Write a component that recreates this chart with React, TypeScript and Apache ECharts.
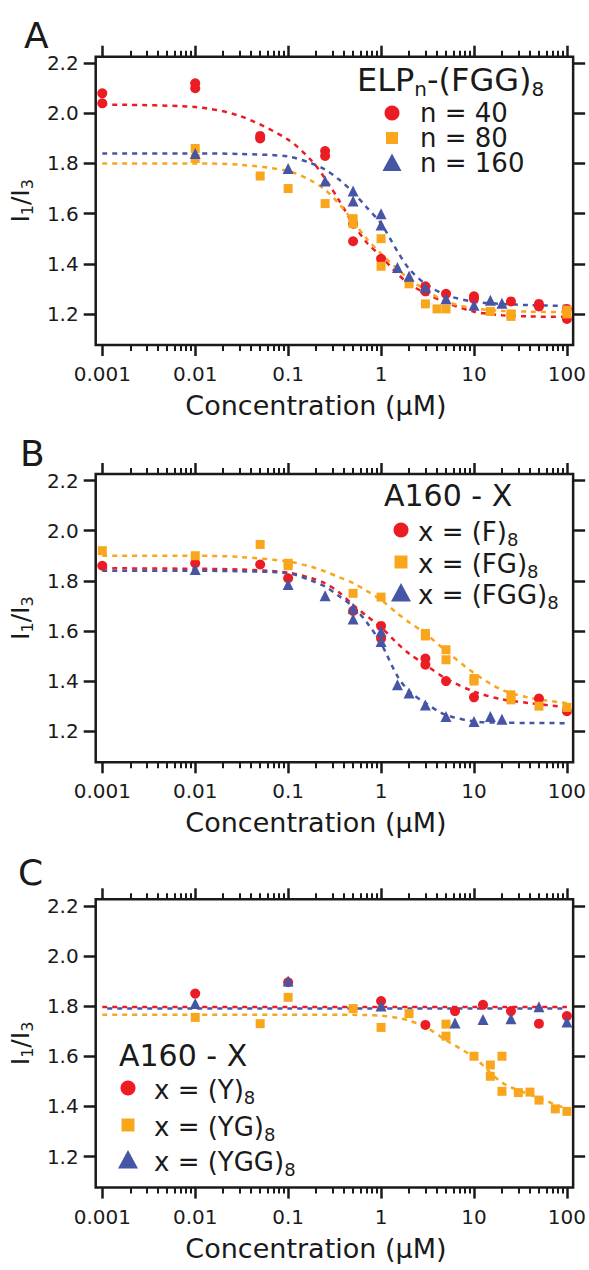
import React, { useEffect, useRef } from 'react';
import * as echarts from 'echarts';

const FONT = 'DejaVu Sans';
const INK = '#1a1a1a';
const RED = '#EC1C24';
const ORANGE = '#F9A61C';
const BLUE = '#4656A5';

// axis ticks
const X_TICKS = [0.001, 0.01, 0.1, 1, 10, 100];
const X_TICK_LABELS = ['0.001', '0.01', '0.1', '1', '10', '100'];
const Y_TICKS = [1.2, 1.4, 1.6, 1.8, 2.0, 2.2];
const Y_TICK_LABELS = ['1.2', '1.4', '1.6', '1.8', '2.0', '2.2'];

// Panel A: ELPn-(FGG)8  [concentration µM, I1/I3]
const A_N40: [number, number][] = [
  [0.001, 2.08], [0.001, 2.04], [0.01, 2.12], [0.01, 2.10], [0.05, 1.91], [0.05, 1.90],
  [0.25, 1.85], [0.25, 1.83], [0.5, 1.56], [0.5, 1.49], [1, 1.42], [3, 1.31], [3, 1.29],
  [5, 1.28], [10, 1.27], [10, 1.26], [25, 1.25], [50, 1.24], [50, 1.23], [100, 1.22], [100, 1.18],
];
const A_N80: [number, number][] = [
  [0.01, 1.86], [0.01, 1.82], [0.05, 1.75], [0.1, 1.70], [0.25, 1.64], [0.5, 1.58], [0.5, 1.56],
  [1, 1.50], [1, 1.39], [2, 1.32], [3, 1.24], [4, 1.22], [5, 1.22], [15, 1.21], [25, 1.20],
  [25, 1.19], [100, 1.215], [100, 1.20],
];
const A_N160: [number, number][] = [
  [0.01, 1.84], [0.1, 1.78], [0.25, 1.73], [0.5, 1.69], [0.5, 1.65], [1, 1.60], [1, 1.555],
  [1.5, 1.385], [2, 1.35], [3, 1.305], [5, 1.26], [10, 1.235], [15, 1.255], [20, 1.243],
];

// Panel B: A160 - X
const B_F: [number, number][] = [
  [0.001, 1.86], [0.01, 1.87], [0.05, 1.865], [0.1, 1.81], [0.5, 1.68], [1, 1.62], [1, 1.57],
  [3, 1.49], [3, 1.465], [5, 1.40], [10, 1.335], [50, 1.33], [100, 1.28],
];
const B_FG: [number, number][] = [
  [0.001, 1.92], [0.01, 1.90], [0.05, 1.945], [0.1, 1.87], [0.1, 1.86], [0.5, 1.75], [1, 1.735],
  [3, 1.59], [3, 1.58], [5, 1.525], [5, 1.485], [10, 1.41], [10, 1.40], [25, 1.345], [25, 1.325],
  [50, 1.30], [100, 1.295],
];
const B_FGG: [number, number][] = [
  [0.01, 1.845], [0.1, 1.785], [0.25, 1.74], [0.5, 1.69], [0.5, 1.648], [1, 1.598], [1, 1.558],
  [1.5, 1.385], [2, 1.352], [3, 1.305], [5, 1.259], [10, 1.239], [15, 1.259], [20, 1.248],
];

// Panel C: A160 - X
const C_Y: [number, number][] = [
  [0.01, 1.85], [0.1, 1.895], [1, 1.82], [3, 1.725], [6.25, 1.78], [12.5, 1.805], [25, 1.78],
  [50, 1.73], [100, 1.76],
];
const C_YG: [number, number][] = [
  [0.01, 1.755], [0.05, 1.73], [0.1, 1.835], [0.5, 1.79], [1, 1.715], [2, 1.77], [5, 1.728],
  [5, 1.68], [10, 1.60], [15, 1.565], [15, 1.52], [20, 1.60], [20, 1.46], [30, 1.455],
  [40, 1.457], [50, 1.425], [75, 1.39], [100, 1.38],
];
const C_YGG: [number, number][] = [
  [0.01, 1.81], [0.1, 1.90], [1, 1.80], [6.25, 1.733], [12.5, 1.747], [25, 1.75], [50, 1.797],
  [100, 1.737],
];

// fitted curves at these concentrations
const FIT_X = [0.001, 0.01, 0.03, 0.1, 0.18, 0.25, 0.35, 0.5, 0.7, 1, 1.5, 2, 3, 5, 10, 20, 40, 100];
const A_N40_FIT = [2.035, 2.025, 1.99, 1.895, 1.81, 1.74, 1.655, 1.56, 1.485, 1.43, 1.36, 1.32, 1.283, 1.245, 1.209, 1.195, 1.19, 1.188];
const A_N80_FIT = [1.80, 1.80, 1.795, 1.77, 1.73, 1.695, 1.64, 1.57, 1.50, 1.44, 1.38, 1.34, 1.296, 1.25, 1.222, 1.212, 1.209, 1.207];
const A_N160_FIT = [1.84, 1.84, 1.838, 1.828, 1.80, 1.776, 1.737, 1.685, 1.625, 1.56, 1.45, 1.38, 1.32, 1.275, 1.249, 1.24, 1.235, 1.232];
const B_F_FIT = [1.85, 1.848, 1.845, 1.833, 1.81, 1.79, 1.755, 1.704, 1.66, 1.615, 1.55, 1.51, 1.465, 1.41, 1.358, 1.327, 1.312, 1.296];
const B_FG_FIT = [1.90, 1.90, 1.895, 1.877, 1.855, 1.837, 1.815, 1.791, 1.76, 1.724, 1.67, 1.635, 1.59, 1.52, 1.432, 1.365, 1.333, 1.312];
const B_FGG_FIT = [1.84, 1.84, 1.838, 1.83, 1.80, 1.777, 1.74, 1.697, 1.635, 1.55, 1.42, 1.36, 1.312, 1.265, 1.239, 1.234, 1.233, 1.232];
const C_Y_FIT = [1.796, 1.796, 1.796, 1.796, 1.796, 1.796, 1.796, 1.796, 1.796, 1.796, 1.796, 1.796, 1.796, 1.796, 1.796, 1.796, 1.796, 1.796];
const C_YG_FIT = [1.765, 1.765, 1.765, 1.765, 1.765, 1.765, 1.765, 1.765, 1.764, 1.762, 1.753, 1.742, 1.717, 1.664, 1.595, 1.495, 1.447, 1.39];
const C_YGG_FIT = [1.790, 1.790, 1.790, 1.790, 1.790, 1.790, 1.790, 1.790, 1.790, 1.790, 1.790, 1.790, 1.790, 1.790, 1.790, 1.790, 1.790, 1.790];

const XMIN = -3.071;
const XMAX = 2.067;
const YMIN = 1.076;
const YMAX = 2.226;
const GRID_LEFT = 95.7;
const GRID_W = 478.3;
const GRID_H = 288.3;
const GRID_TOPS = [56.7, 474, 899.3];

type SeriesDef = { name: string; data: [number, number][]; color: string; symbol: string; size: number };
type FitDef = { data: number[]; color: string; offset: number };

const PANELS: { scatter: SeriesDef[]; fits: FitDef[] }[] = [
  {
    scatter: [
      { name: 'n = 40', data: A_N40, color: RED, symbol: 'circle', size: 10 },
      { name: 'n = 80', data: A_N80, color: ORANGE, symbol: 'rect', size: 9 },
      { name: 'n = 160', data: A_N160, color: BLUE, symbol: 'triangle', size: 11 },
    ],
    fits: [
      { data: A_N40_FIT, color: RED, offset: 0 },
      { data: A_N80_FIT, color: ORANGE, offset: 0 },
      { data: A_N160_FIT, color: BLUE, offset: 0 },
    ],
  },
  {
    scatter: [
      { name: 'x = (F)8', data: B_F, color: RED, symbol: 'circle', size: 10 },
      { name: 'x = (FG)8', data: B_FG, color: ORANGE, symbol: 'rect', size: 9 },
      { name: 'x = (FGG)8', data: B_FGG, color: BLUE, symbol: 'triangle', size: 11 },
    ],
    fits: [
      { data: B_F_FIT, color: RED, offset: 0 },
      { data: B_FG_FIT, color: ORANGE, offset: 0 },
      { data: B_FGG_FIT, color: BLUE, offset: 0 },
    ],
  },
  {
    scatter: [
      { name: 'x = (Y)8', data: C_Y, color: RED, symbol: 'circle', size: 10 },
      { name: 'x = (YG)8', data: C_YG, color: ORANGE, symbol: 'rect', size: 9 },
      { name: 'x = (YGG)8', data: C_YGG, color: BLUE, symbol: 'triangle', size: 11 },
    ],
    fits: [
      { data: C_YG_FIT, color: ORANGE, offset: 0 },
      { data: C_Y_FIT, color: RED, offset: 0 },
      { data: C_YGG_FIT, color: BLUE, offset: 5 },
    ],
  },
];

const lg = (v: number) => Math.log10(v);

function buildOption() {
  const major = X_TICKS.map(lg);
  const minor: number[] = [];
  for (let d = -3; d < 2; d++) for (let k = 2; k <= 9; k++) minor.push(d + Math.log10(k));

  const grids: any[] = [];
  const xAxes: any[] = [];
  const yAxes: any[] = [];
  const series: any[] = [];

  PANELS.forEach((p, g) => {
    grids.push({
      left: GRID_LEFT, top: GRID_TOPS[g], width: GRID_W, height: GRID_H,
      show: true, borderColor: INK, borderWidth: 2.5, backgroundColor: 'transparent',
    });
    const xb = {
      type: 'value', gridIndex: g, min: XMIN, max: XMAX, offset: 0,
      splitLine: { show: false }, axisLine: { show: false, onZero: false },
    };
    const tickStyle = { width: 2.5, color: INK };
    xAxes.push(
      {
        ...xb, position: 'bottom',
        axisTick: { show: true, customValues: major, length: 11, lineStyle: tickStyle },
        axisLabel: {
          show: true, customValues: major, margin: 19,
          formatter: (v: number) => X_TICK_LABELS[major.findIndex((m) => Math.abs(m - v) < 1e-6)] ?? '',
          fontSize: 20, fontFamily: FONT, color: INK,
        },
        name: 'Concentration (µM)', nameLocation: 'middle', nameGap: 47,
        nameTextStyle: { fontSize: 27, fontFamily: FONT, color: INK, padding: [0, 37, 0, 0] },
      },
      {
        ...xb, position: 'bottom',
        axisTick: { show: true, customValues: minor, length: 6, lineStyle: { width: 2, color: INK } },
        axisLabel: { show: false },
      },
      {
        ...xb, position: 'top',
        axisTick: { show: true, customValues: major, length: 11, lineStyle: tickStyle },
        axisLabel: { show: false },
      },
      {
        ...xb, position: 'top',
        axisTick: { show: true, customValues: minor, length: 6, lineStyle: { width: 2, color: INK } },
        axisLabel: { show: false },
      },
    );
    const yb = {
      type: 'value', gridIndex: g, min: YMIN, max: YMAX, offset: 0,
      splitLine: { show: false }, axisLine: { show: false, onZero: false },
    };
    yAxes.push(
      {
        ...yb, position: 'left',
        axisTick: { show: true, customValues: Y_TICKS, length: 12, lineStyle: tickStyle },
        axisLabel: {
          show: true, customValues: Y_TICKS, margin: 17,
          formatter: (v: number) => Y_TICK_LABELS[Y_TICKS.findIndex((m) => Math.abs(m - v) < 1e-6)] ?? '',
          fontSize: 20, fontFamily: FONT, color: INK,
        },
        name: '{i|I}{s|1}{i|/I}{s|3}', nameLocation: 'middle', nameGap: 56, nameRotate: 90,
        nameTextStyle: {
          rich: {
            i: { fontSize: 25, fontFamily: FONT, color: INK, lineHeight: 30 },
            s: { fontSize: 16, fontFamily: FONT, color: INK, lineHeight: 8, verticalAlign: 'bottom' },
          },
        },
      },
      {
        ...yb, position: 'right',
        axisTick: { show: true, customValues: Y_TICKS, length: 12, lineStyle: tickStyle },
        axisLabel: { show: false },
      },
    );
    p.fits.forEach((f) => {
      series.push({
        type: 'line', xAxisIndex: g * 4, yAxisIndex: g * 2, smooth: 0.3,
        symbol: 'none', silent: true, z: 1,
        data: FIT_X.map((x, i) => [lg(x), f.data[i]]),
        lineStyle: { color: f.color, width: 2.5, type: [5, 5], dashOffset: f.offset },
      });
    });
    p.scatter.forEach((s) => {
      series.push({
        type: 'scatter', name: s.name, xAxisIndex: g * 4, yAxisIndex: g * 2,
        symbol: s.symbol, symbolSize: s.size, z: 2,
        itemStyle: { color: s.color, opacity: 1 },
        data: s.data.map(([x, y]) => [lg(x), y]),
      });
    });
  });

  // rich text: main part {m|...}, subscript {s|...}
  const txt = (x: number, y: number, text: string, size: number, subSize: number, lh?: number) => ({
    type: 'text', x, y, z: 10,
    style: {
      text, fill: INK, font: `${size}px "${FONT}"`, verticalAlign: 'middle', align: 'left',
      lineHeight: lh ?? size,
      rich: {
        m: { fontSize: size, fontFamily: FONT, fill: INK, lineHeight: lh ?? size + 6 },
        s: { fontSize: subSize, fontFamily: FONT, fill: INK, lineHeight: 6, verticalAlign: 'bottom' },
      },
    },
  });
  const circle = (cx: number, cy: number, r: number, color: string) => ({
    type: 'circle', z: 10, shape: { cx, cy, r }, style: { fill: color },
  });
  const square = (cx: number, cy: number, a: number, color: string) => ({
    type: 'rect', z: 10, shape: { x: cx - a / 2, y: cy - a / 2, width: a, height: a }, style: { fill: color },
  });
  const tri = (cx: number, cy: number, w: number, color: string) => ({
    type: 'polygon', z: 10,
    shape: { points: [[cx - w / 2, cy + w * 0.42], [cx + w / 2, cy + w * 0.42], [cx, cy - w * 0.5]] },
    style: { fill: color },
  });

  const graphic: any[] = [
    txt(24, 35, 'A', 36, 20),
    txt(20, 453, 'B', 36, 20),
    txt(18, 872, 'C', 36, 20),
    // legend A
    txt(357, 80, '{m|ELP}{s|n}{m|-(FGG)}{s|8}', 32, 20),
    circle(392, 113, 7.5, RED),
    square(392, 138, 12, ORANGE),
    tri(392, 163, 19, BLUE),
    txt(420, 138, 'n = 40\nn = 80\nn = 160', 26, 17, 25),
    // legend B
    txt(384, 495, 'A160 - X', 30, 18),
    circle(401, 530, 7.5, RED), txt(418, 532, '{m|x = (F)}{s|8}', 26, 18),
    square(401, 562, 13, ORANGE), txt(418, 564, '{m|x = (FG)}{s|8}', 26, 18),
    tri(401, 593, 20, BLUE), txt(418, 595, '{m|x = (FGG)}{s|8}', 26, 18),
    // legend C
    txt(119, 1055, 'A160 - X', 30, 18),
    circle(128, 1088, 7.5, RED), txt(154, 1090, '{m|x = (Y)}{s|8}', 26, 18),
    square(128, 1125, 13, ORANGE), txt(154, 1127, '{m|x = (YG)}{s|8}', 26, 18),
    tri(128, 1160, 20, BLUE), txt(154, 1162, '{m|x = (YGG)}{s|8}', 26, 18),
  ];

  return {
    animation: false,
    backgroundColor: '#ffffff',
    grid: grids,
    xAxis: xAxes,
    yAxis: yAxes,
    series,
    graphic,
  };
}

export default function App() {
  const ref = useRef<HTMLDivElement>(null);
  useEffect(() => {
    if (!ref.current) return;
    const chart = echarts.init(ref.current, undefined, { renderer: 'svg' });
    chart.setOption(buildOption() as any);
    return () => chart.dispose();
  }, []);
  return (
    <div
      ref={ref}
      style={{ position: 'absolute', left: 0, top: 0, width: 589, height: 1270, background: '#fff' }}
    />
  );
}
